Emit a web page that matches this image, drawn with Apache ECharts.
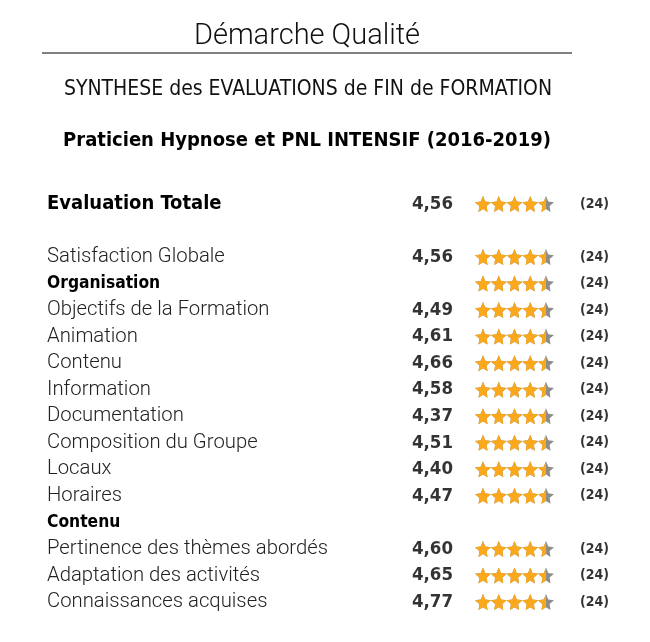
<!DOCTYPE html>
<html><head><meta charset="utf-8">
<script src="https://cdn.jsdelivr.net/npm/echarts@6/dist/echarts.min.js"></script>
<style>html,body{margin:0;padding:0;background:#fff}#c{width:650px;height:642px}</style>
</head><body><div id="c"></div>
<script>
const labels = ['Evaluation Totale', '', 'Satisfaction Globale', 'Organisation', 'Objectifs de la Formation', 'Animation', 'Contenu', 'Information', 'Documentation', 'Composition du Groupe', 'Locaux', 'Horaires', 'Contenu', 'Pertinence des thèmes abordés', 'Adaptation des activités', 'Connaissances acquises'];
const scores = [4.56, null, 4.56, null, 4.49, 4.61, 4.66, 4.58, 4.37, 4.51, 4.40, 4.47, null, 4.60, 4.65, 4.77];
const stars = [4.5, null, 4.5, 4.5, 4.5, 4.5, 4.5, 4.5, 4.5, 4.5, 4.5, 4.5, null, 4.5, 4.5, 4.5];
const counts = [24, null, 24, 24, 24, 24, 24, 24, 24, 24, 24, 24, null, 24, 24, 24];
const maxStars = 5;

const LIGHT = 'Roboto, "Open Sans", sans-serif';
const COND = '"Liberation Sans Narrow", "DejaVu Sans Condensed", "Roboto Condensed", sans-serif';
const STAR = 'path://M12,1 L15.09,8.26 L23,9.27 L17,14.14 L18.18,22.02 L12,18.27 L5.82,22.02 L7,14.14 L1,9.27 L8.91,8.26 Z';
const fmt = v => v.toFixed(2).replace('.', ',');

const chart = echarts.init(document.getElementById('c'), null, {renderer: 'canvas'});
chart.setOption({
  animation: false,
  backgroundColor: '#fff',
  title: [
    {text: 'Démarche Qualité', left: 307, textAlign: 'center', top: 22, padding: 0,
     textStyle: {fontFamily: LIGHT, fontWeight: 300, fontSize: 29, color: '#111'}},
    {text: 'SYNTHESE des EVALUATIONS de FIN de FORMATION', left: 308, textAlign: 'center', top: 79, padding: 0,
     textStyle: {fontFamily: COND, fontWeight: 'normal', fontSize: 21, color: '#111'}},
    {text: 'Praticien Hypnose et PNL INTENSIF (2016-2019)', left: 307, textAlign: 'center', top: 131, padding: 0,
     textStyle: {fontFamily: COND, fontWeight: 'bold', fontSize: 20, color: '#000'}}
  ],
  graphic: [{type: 'line', shape: {x1: 42, y1: 53, x2: 572, y2: 53}, style: {stroke: '#000', lineWidth: 1}}],
  grid: {left: 475, width: 79, top: 190.65, height: 424.6},
  xAxis: {type: 'value', min: 0, max: maxStars, show: false},
  yAxis: {
    type: 'category', inverse: true,
    data: labels.map((_, i) => String(i)),
    axisLine: {show: false}, axisTick: {show: false}, splitLine: {show: false},
    axisLabel: {
      margin: 428, align: 'left', interval: 0,
      formatter: (v, i) => {
        const idx = +v;
        const t = labels[idx];
        if (!t) return '';
        if (idx === 0) return '{t|' + t + '}';
        if (scores[idx] == null) return '{h|' + t + '}';
        return '{n|' + t + '}';
      },
      rich: {
        t: {fontFamily: COND, fontWeight: 'bold', fontSize: 20, color: '#000'},
        h: {fontFamily: COND, fontWeight: 'bold', fontSize: 17.3, color: '#000'},
        n: {fontFamily: LIGHT, fontWeight: 300, fontSize: 20.3, color: '#222'}
      }
    }
  },
  series: [
    {
      type: 'pictorialBar', name: 'bg',
      data: stars.map(v => v == null ? null : maxStars),
      symbol: STAR, symbolRepeat: maxStars, symbolBoundingData: maxStars,
      symbolSize: [16, 16], symbolPosition: 'start', barGap: '-100%',
      itemStyle: {color: '#8c8c8c'}, z: 2, silent: true
    },
    {
      type: 'pictorialBar', name: 'fg',
      data: stars,
      symbol: STAR, symbolRepeat: maxStars, symbolBoundingData: maxStars, symbolClip: true,
      symbolSize: [16, 16], symbolPosition: 'start', barGap: '-100%',
      itemStyle: {color: '#fba81b'}, z: 3, silent: true
    },
    {
      type: 'scatter', name: 'scores', symbolSize: 0,
      data: scores.map((v, i) => v == null ? null : [0, i, v]),
      label: {show: true, position: 'left', distance: 22,
        formatter: p => fmt(p.value[2]),
        fontFamily: COND, fontWeight: 'bold', fontSize: 18.5, color: '#000'}
    },
    {
      type: 'scatter', name: 'counts', symbolSize: 0,
      data: counts.map((v, i) => v == null ? null : [maxStars, i, v]),
      label: {show: true, position: 'right', distance: 26,
        formatter: p => '(' + p.value[2] + ')',
        fontFamily: COND, fontWeight: 'bold', fontSize: 14, color: '#000'}
    }
  ]
});
</script></body></html>
